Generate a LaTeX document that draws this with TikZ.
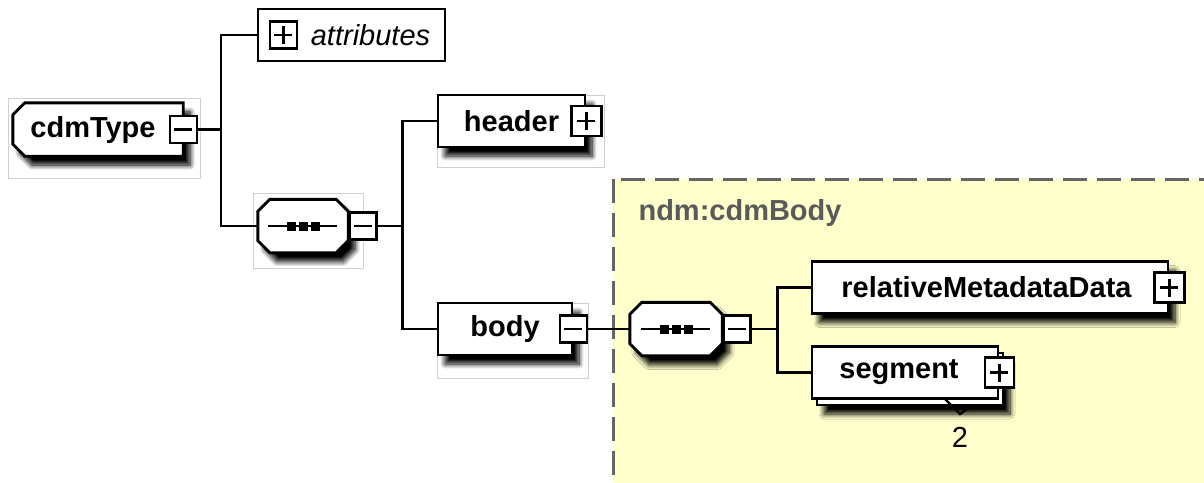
\documentclass[tikz,border=0pt]{standalone}
\usepackage{fontspec}
\setmainfont{Liberation Sans}
\usetikzlibrary{positioning,shadows.blur}

\definecolor{regionfill}{HTML}{FFFFCC}
\definecolor{regionline}{HTML}{666666}
\definecolor{regiontext}{HTML}{5A5A5A}
\definecolor{framegray}{HTML}{CFCFCF}

\newcommand{\bigfont}{\fontsize{29}{34}\selectfont}

\tikzset{
  shade/.style={blur shadow={shadow xshift=7pt, shadow yshift=-9pt, shadow blur steps=10, shadow blur radius=5pt, shadow opacity=100}},
  elemns/.style={draw, line width=2.9pt, fill=white, minimum height=52pt, inner sep=0pt, font=\bigfont\bfseries},
  elem/.style={elemns, shade},
  octnode/.style={minimum width=90pt, minimum height=53pt, inner sep=0pt, font=\bigfont\bfseries},
  octline/.style={draw, line width=2.9pt, fill=white, line join=miter, shade},
  pmbox/.style={draw, line width=2.4pt, fill=white, minimum width=27pt, minimum height=27pt, inner sep=0pt},
  minusbox/.style={pmbox, path picture={
      \draw[line width=2.4pt, black] ([xshift=-9pt]path picture bounding box.center) -- ([xshift=9pt]path picture bounding box.center);}},
  plusbox/.style={pmbox, path picture={
      \draw[line width=2.4pt, black] ([xshift=-9pt]path picture bounding box.center) -- ([xshift=9pt]path picture bounding box.center)
        ([yshift=-9pt]path picture bounding box.center) -- ([yshift=9pt]path picture bounding box.center);}},
  conn/.style={line width=2.5pt},
  frame/.style={draw=framegray, line width=1pt},
  region/.style={draw=regionline, line width=3pt, dash pattern=on 24pt off 10pt, fill=regionfill},
}

% octagon round an empty sequence node, with the sequence mark
\newcommand{\seqshape}[1]{%
  \draw[octline] ([xshift=12pt]#1.north west) -- ([xshift=-12pt]#1.north east) -- ([yshift=-12pt]#1.north east)
    -- ([yshift=12pt]#1.south east) -- ([xshift=-12pt]#1.south east) -- ([xshift=12pt]#1.south west)
    -- ([yshift=12pt]#1.south west) -- ([yshift=-12pt]#1.north west) -- cycle;
  \draw[line width=2.2pt] ([xshift=-35pt]#1.center) -- ([xshift=34pt]#1.center);
  \foreach \d in {-12,0,12}
    \fill ([xshift=\d pt]#1.center) ++(-4.5pt,-4.5pt) rectangle ++(9pt,9pt);
}

\begin{document}
\begin{tikzpicture}[x=1pt, y=-1pt, every node/.style={font=\bigfont}]
  \useasboundingbox (0,0) rectangle (1204,482);

  \draw[region] (613,179) rectangle (1240,520);
  \draw[frame] (8,98) rectangle (200,178);
  \draw[frame] (253,193) rectangle (363,268);
  \draw[frame] (437,95) rectangle (604,167);
  \draw[frame] (437,303) rectangle (588,378);
  \node[anchor=base west, text=regiontext, font=\bigfont\bfseries] (cdmBody) at (635,220) {ndm:cdmBody};

  \node[octnode, minimum width=170pt] (cdmType) at (98,129.5) {};
  \draw[octline] ([xshift=12pt]cdmType.north west) -- (cdmType.north east) -- (cdmType.south east)
    -- ([xshift=12pt]cdmType.south west) -- ([yshift=12pt]cdmType.south west) -- ([yshift=-12pt]cdmType.north west) -- cycle;
  \node[font=\bigfont\bfseries, xshift=-5pt] (cdmTypeText) at (cdmType.center) {cdmType};
  \node[minusbox] (cdmTypeM) at (cdmType.east) {};

  \node[draw, line width=2.6pt, minimum width=187pt, minimum height=52pt, inner sep=0pt, font=\bigfont\itshape] (attributes) at (351.5,35) {\hspace*{38pt}attributes};
  \node[plusbox, right=12pt of attributes.west] (attributesP) {};

  \node[octnode] (seq1) at (303,226) {};
  \seqshape{seq1}
  \node[minusbox, right=0pt of seq1] (seq1M) {};

  \node[elem, minimum width=147pt] (header) at (511.5,121) {header};
  \node[plusbox, minimum width=30pt, minimum height=30pt] (headerP) at (header.east) {};

  \node[elem, minimum width=134pt] (body) at (505,329) {body};
  \node[minusbox] (bodyM) at (body.east) {};

  \node[octnode, minimum width=92pt] (seq2) at (676,329) {};
  \seqshape{seq2}
  \node[minusbox, right=0pt of seq2] (seq2M) {};

  \node[elem, minimum width=356pt] (relMeta) at (990,287.5) {relativeMetadataData\hspace*{7pt}};
  \node[plusbox, minimum width=30pt, minimum height=30pt] (relMetaP) at (relMeta.east) {};

  \node[elem, minimum width=186pt] (segmentB) at (910,379) {};
  \draw[line width=2.4pt] (944,398) -- (960,414) -- (973,405);
  \node[elemns, minimum width=186pt] (segment) at (905,372.5) {segment\hspace*{12pt}};
  \node[plusbox, minimum width=29pt, minimum height=30pt] (segmentP) at (segment.east) {};
  \node (segCount) at (960,437) {2};

  \coordinate[right=23pt of cdmTypeM] (j1);
  \coordinate[right=25pt of seq1M] (j2);
  \coordinate[right=26pt of seq2M] (j3);

  \draw[conn] (cdmTypeM.east) -- (j1);
  \draw[conn] (attributes.west) -| (j1) |- (seq1.west);
  \draw[conn] (seq1M.east) -- (j2);
  \draw[conn] (header.west) -| (j2) |- (body.west);
  \draw[conn] (bodyM.east) -- (seq2.west);
  \draw[conn] (seq2M.east) -- (j3);
  \draw[conn] (relMeta.west) -| (j3) |- (segment.west);

\end{tikzpicture}
\end{document}
